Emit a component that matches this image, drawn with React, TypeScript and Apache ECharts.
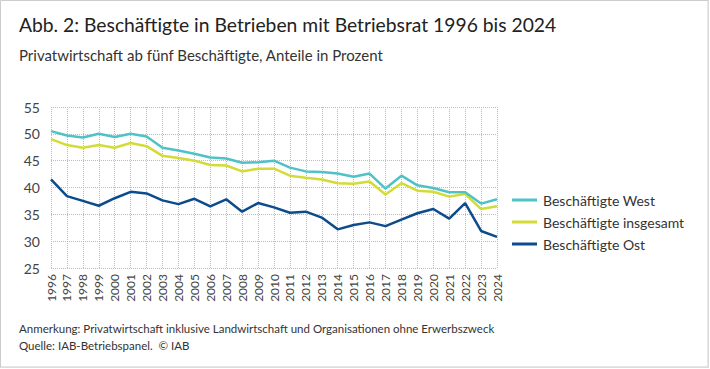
import React, { useEffect, useRef } from "react";
import * as echarts from "echarts";

const years = ["1996","1997","1998","1999","2000","2001","2002","2003","2004","2005","2006","2007","2008","2009","2010","2011","2012","2013","2014","2015","2016","2017","2018","2019","2020","2021","2022","2023","2024"];
const west = [50.5,49.7,49.3,50.0,49.4,50.0,49.5,47.4,46.9,46.3,45.6,45.4,44.6,44.7,45.0,43.7,43.0,42.9,42.6,42.0,42.6,39.8,42.2,40.4,39.9,39.1,39.1,37.0,37.8];
const gesamt = [49.0,47.9,47.4,47.9,47.4,48.3,47.7,45.9,45.5,45.0,44.2,44.1,43.0,43.5,43.5,42.2,41.8,41.5,40.8,40.7,41.1,38.7,40.8,39.4,39.2,38.3,38.8,36.0,36.5];
const ost = [41.5,38.4,37.5,36.6,38.0,39.2,38.9,37.6,36.9,37.9,36.5,37.8,35.5,37.1,36.3,35.3,35.5,34.4,32.2,33.0,33.5,32.8,34.0,35.2,36.0,34.2,37.1,31.9,30.8];
const seriesNames = ["Beschäftigte West", "Beschäftigte insgesamt", "Beschäftigte Ost"];
const colors = ["#4fc2c6", "#d3dc36", "#0c4b8c"];
const titleText = "Abb. 2: Beschäftigte in Betrieben mit Betriebsrat 1996 bis 2024";
const subtitleText = "Privatwirtschaft ab fünf Beschäftigte, Anteile in Prozent";
const note1 = "Anmerkung: Privatwirtschaft inklusive Landwirtschaft und Organisationen ohne Erwerbszweck";
const note2 = "Quelle: IAB-Betriebspanel.  © IAB";

const FONT = "Lato, 'Noto Sans', sans-serif";

export default function App() {
  const ref = useRef<HTMLDivElement>(null);
  useEffect(() => {
    document.body.style.margin = "0";
    const chart = echarts.init(ref.current!, null, { renderer: "svg" });
    const data = [west, gesamt, ost];
    chart.setOption({
      animation: false,
      backgroundColor: "#ffffff",
      textStyle: { fontFamily: FONT },
      title: [
        { text: titleText, left: 19, top: 15, padding: 0, textStyle: { fontFamily: FONT, fontSize: 19.3, fontWeight: "normal", color: "#222222" } },
        { text: subtitleText, left: 19, top: 47, padding: 0, textStyle: { fontFamily: FONT, fontSize: 15, fontWeight: "normal", color: "#333333" } },
      ],
      legend: {
        orient: "vertical",
        left: 512,
        top: 193,
        padding: 0,
        itemWidth: 25,
        itemHeight: 3,
        itemGap: 8,
        icon: "rect",
        data: seriesNames,
        textStyle: { fontFamily: FONT, fontSize: 14, color: "#333333", padding: [0, 0, 0, 1] },
      },
      grid: { left: 51, right: 213, top: 107, bottom: 101, containLabel: false },
      xAxis: {
        type: "category",
        data: years,
        boundaryGap: false,
        axisLine: { show: false },
        axisTick: { show: false },
        axisLabel: { rotate: 90, interval: 0, fontSize: 12, color: "#444444", margin: 6, fontFamily: FONT },
        splitLine: { show: true, interval: 0, lineStyle: { type: "dotted", color: "#bdbdbd", width: 1 } },
      },
      yAxis: {
        type: "value",
        min: 25,
        max: 55,
        interval: 5,
        axisLine: { show: false },
        axisTick: { show: false },
        axisLabel: { fontSize: 14, color: "#444444", margin: 11, fontFamily: FONT },
        splitLine: { show: true, lineStyle: { type: "dotted", color: "#bdbdbd", width: 1 } },
      },
      series: seriesNames.map((name, i) => ({
        name,
        type: "line",
        data: data[i],
        symbol: "none",
        showSymbol: false,
        lineStyle: { color: colors[i], width: 2.5 },
        itemStyle: { color: colors[i] },
        z: 3 - i,
      })),
      graphic: [
        { type: "rect", shape: { x: 0.5, y: 0.5, width: 707.5, height: 366.5 }, style: { fill: "none", stroke: "#cccccc", lineWidth: 1 }, silent: true },
        { type: "line", shape: { x1: 0, y1: 367.5, x2: 709, y2: 367.5 }, style: { stroke: "#dddddd", lineWidth: 1 }, silent: true },
        { type: "line", shape: { x1: 708.5, y1: 0, x2: 708.5, y2: 368 }, style: { stroke: "#dddddd", lineWidth: 1 }, silent: true },
        { type: "text", left: 19, top: 322, style: { text: note1, fontFamily: FONT, fontSize: 11.5, fill: "#333333" } },
        { type: "text", left: 19, top: 339, style: { text: note2, fontFamily: FONT, fontSize: 11.5, fill: "#333333" } },
      ],
    });
    return () => chart.dispose();
  }, []);
  return <div ref={ref} style={{ width: 710, height: 369 }} />;
}
